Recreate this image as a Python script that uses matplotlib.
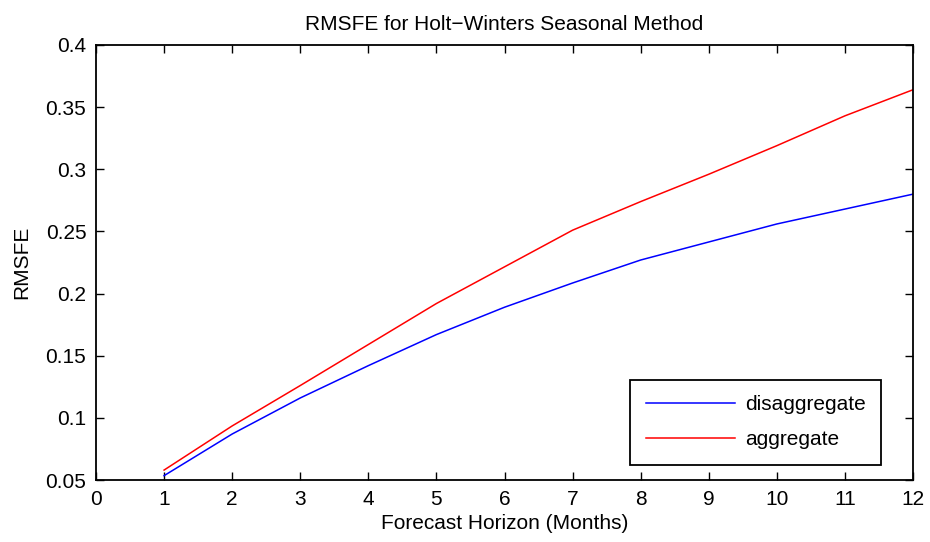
import matplotlib
matplotlib.use('Agg')
from matplotlib import pyplot as plt

"""RMSFE for Holt-Winters seasonal method, disaggregate vs aggregate"""
horizon = [1, 2, 3, 4, 5, 6, 7, 8, 9, 10, 11, 12]
disaggregate = [0.0535, 0.087, 0.116, 0.142, 0.167, 0.189, 0.2085, 0.227, 0.2415, 0.256, 0.268, 0.280]
aggregate = [0.058, 0.0935, 0.126, 0.159, 0.192, 0.2215, 0.251, 0.274, 0.296, 0.319, 0.343, 0.364]
xticks = list(range(0, 13))
yticks = [0.05, 0.1, 0.15, 0.2, 0.25, 0.3, 0.35, 0.4]
yticklabels = ['0.05', '0.1', '0.15', '0.2', '0.25', '0.3', '0.35', '0.4']

plt.rcParams['font.family'] = ['Liberation Sans', 'DejaVu Sans']

fig = plt.figure(figsize=(9.3, 5.42), dpi=100)
ax = fig.add_axes([96/930, 62/542, 817/930, 435/542])
ax.plot(horizon, disaggregate, color='blue', lw=1.1, label='disaggregate')
ax.plot(horizon, aggregate, color='red', lw=1.1, label='aggregate')
ax.set_xlim(0, 12)
ax.set_ylim(0.05, 0.4)
ax.set_xticks(xticks)
ax.set_yticks(yticks)
ax.set_yticklabels(yticklabels)
ax.tick_params(direction='in', length=6, width=1, top=True, right=True, labelsize=15, pad=7)
for s in ax.spines.values():
    s.set_linewidth(1.3)
ax.set_title('RMSFE for Holt\u2212Winters Seasonal Method', fontsize=15, pad=11)
ax.set_xlabel('Forecast Horizon (Months)', fontsize=15, labelpad=4)
ax.set_ylabel('RMSFE', fontsize=15, labelpad=10)
leg = ax.legend(loc='lower right', bbox_to_anchor=(785/817, 15/435), borderaxespad=0,
                fontsize=15, fancybox=False, edgecolor='black', framealpha=1,
                handlelength=4.3, handletextpad=0.45, borderpad=0.75, labelspacing=0.78)
leg.get_frame().set_linewidth(1.3)
fig.savefig('out.png', dpi=100)
